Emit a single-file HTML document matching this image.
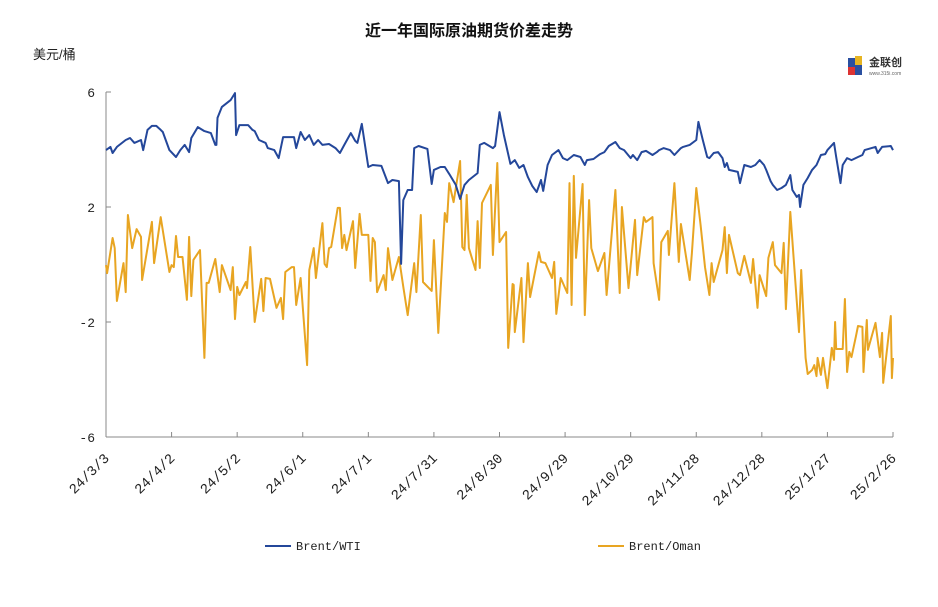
<!DOCTYPE html>
<html><head><meta charset="utf-8"><style>
body{margin:0;background:#fff;}
svg text{font-family:"Liberation Sans","Noto Sans CJK SC",sans-serif;}
svg text.mono{font-family:"Liberation Mono",monospace;}
</style></head><body>
<svg id="chart" width="938" height="602" viewBox="0 0 938 602" xmlns="http://www.w3.org/2000/svg">
<text x="469" y="36" text-anchor="middle" font-size="16" font-weight="bold" fill="#111">近一年国际原油期货价差走势</text>
<text x="33" y="59" font-size="13" fill="#222">美元/桶</text>
<g>
<rect x="848" y="58" width="7" height="9" fill="#2a4fa0"/><rect x="855" y="56" width="7" height="9" fill="#e6b422"/><rect x="848" y="67" width="7" height="8" fill="#d33"/><rect x="855" y="65" width="7" height="10" fill="#2a4fa0"/>
<text x="869" y="66" font-size="11" font-weight="bold" fill="#333">金联创</text>
<text x="869" y="75" font-size="5" fill="#666">www.315i.com</text>
</g>
<g id="axes"></g>
<g id="series"></g>
<g>
<line x1="265" y1="546" x2="291" y2="546" stroke="#24479a" stroke-width="2"/>
<text class="mono" x="296" y="550" font-size="12" fill="#222">Brent/WTI</text>
<line x1="598" y1="546" x2="624" y2="546" stroke="#e8a522" stroke-width="2"/>
<text class="mono" x="629" y="550" font-size="12" fill="#222">Brent/Oman</text>
</g>
</svg>
<script>
const tickLabels=["24/3/3","24/4/2","24/5/2","24/6/1","24/7/1","24/7/31","24/8/30","24/9/29","24/10/29","24/11/28","24/12/28","25/1/27","25/2/26"];
const yTicks=[6,2,-2,-6];
const wtiDays=[0,2,3,5,9,11,13,16,17,19,21,23,25,26,29,32,34,36,38,39,42,45,48,50,50.5,51,53,57,59,59.5,61,65,67,68,70,73,74,77,79,81,86,87,89,91,93,95,97,99,102,105,107,109,112,114,115,117,120,122,126,129,131,134,135,136,138,140,141,143,147,149,150,153,155,157,160,162,164,166,170,171,173,177,178,180,182,185,187,189,191,193,195,197,199,200,202,204,207,209,211,214,217,219,220,223,226,228,230,233,235,237,240,241,243,245,247,250,252,253,255,258,260,263,264,267,270,271,273,275,276,278,280,282,283,284,285,289,290,292,295,297,299,301,302,304,305,307,309,311,313,314,316,317,317.5,319,321,323,325,327,329,330,333,334,336,337,339,341,344,346,347,352,353,355,359,360];
const wtiVals=[3.98,4.09,3.88,4.09,4.33,4.40,4.23,4.33,3.98,4.68,4.82,4.82,4.68,4.61,3.98,3.74,3.98,4.16,3.91,4.40,4.78,4.64,4.57,4.16,4.16,5.10,5.48,5.72,5.96,4.50,4.85,4.85,4.68,4.64,4.33,4.23,4.05,3.98,3.70,4.43,4.43,4.05,4.61,4.33,4.50,4.16,4.33,4.16,4.19,4.05,3.88,4.16,4.57,4.30,4.23,4.89,3.39,3.46,3.43,2.83,2.94,2.90,0.02,2.24,2.59,2.59,4.05,4.12,4.02,2.80,3.29,3.39,3.39,3.15,2.77,2.28,2.77,2.94,3.18,4.16,4.23,4.05,4.12,5.30,4.50,3.50,3.63,3.36,3.46,3.04,2.73,2.52,2.94,2.56,3.46,3.81,3.98,3.70,3.63,3.81,3.74,3.46,3.63,3.67,3.84,3.91,4.12,4.26,4.05,3.98,3.70,3.81,3.63,3.91,3.95,3.81,3.91,3.98,4.05,3.98,3.81,4.05,4.09,4.16,4.33,4.96,4.33,3.74,3.70,3.88,3.91,3.70,3.39,3.53,3.29,3.22,2.83,3.46,3.39,3.46,3.63,3.46,3.29,2.90,2.77,2.59,2.66,2.77,3.11,2.59,2.35,2.42,2.00,2.77,3.01,3.29,3.46,3.81,3.84,3.98,4.23,3.74,2.83,3.46,3.70,3.63,3.74,3.81,3.98,4.09,3.88,4.09,4.12,3.98];
const omanDays=[0,0.5,3,4,5,8,9,10,12,14,16,16.5,21,22,25,29,30,31,32,33,35,37,38,39,40,43,45,46,47,50,52,53,57,58,59,60,61,64,64.5,66,68,71,72,73,75,78,80,81,82,85,86,87,89,92,93,95,96,99,100,101,102,103,106,107,108,109,110,113,114,116,117,120,121,122,123,124,127,128,129,131,134,136,138,141,142,144,145,149,150,152,155,156,157,159,160,162,163,164,165,166,169,170,171,172,176,177,179,180,183,184,186,186.5,187,190,191,193,194,198,199,201,204,205,206,208,211,212,213,214,215,218,219,221,222,225,228,229,233,235,236,239,242,243,246,247,250,250.5,253,254,257,257.5,260,262,263,267,268,270,272,274,276,277,278,282,283,284,285,289,290,292,295,296,298,299,302,303,305,306,309,310,311,313,317,318,320,321,323,324,325,325.5,327,328,330,332,333,333.5,334,337,338,339,340,341,343,344,346,346.5,348,348.5,352,354,355,355.5,359,359.5,360];
const omanVals=[-0.02,-0.30,0.92,0.57,-1.27,0.05,-0.96,1.72,0.57,1.23,0.96,-0.54,1.48,0.05,1.65,-0.26,-0.02,-0.09,0.99,0.26,0.26,-1.23,0.96,-1.10,0.16,0.50,-3.25,-0.64,-0.64,0.19,-0.96,-0.02,-0.89,-0.09,-1.90,-0.78,-1.06,-0.61,-0.82,0.61,-2.00,-0.50,-1.62,-0.47,-0.50,-1.51,-1.16,-1.90,-0.26,-0.09,-0.09,-1.41,-0.47,-3.50,-0.19,0.57,-0.47,1.44,0.02,-0.09,0.57,0.61,1.97,1.97,0.57,1.03,0.50,1.51,-0.12,1.76,1.03,1.03,-0.57,0.92,0.78,-0.96,-0.37,-0.89,0.57,-0.54,0.26,-0.78,-1.76,0.05,-0.96,1.72,-0.61,-0.92,0.85,-2.38,1.79,1.48,2.83,2.17,2.66,3.60,0.61,0.50,2.42,0.57,-0.19,1.51,-0.12,2.14,2.77,0.33,3.53,0.78,1.13,-2.90,-0.68,-0.71,-2.35,-0.47,-2.70,0.05,-1.13,0.43,0.09,0.05,-0.47,0.09,-1.72,-0.47,-0.99,2.83,-1.41,3.08,0.23,2.80,-1.76,2.24,0.57,-0.23,0.40,-1.06,2.59,-0.99,2.00,-0.82,1.55,-0.37,1.65,1.48,1.65,0.05,-1.23,0.78,1.17,0.33,2.83,0.09,1.41,-0.54,0.40,2.66,1.37,-0.09,-1.06,0.05,-0.61,0.50,1.30,-0.30,1.03,-0.30,-0.37,0.30,-0.64,0.19,-1.51,-0.37,-1.10,0.23,0.78,-0.02,-0.30,0.75,-1.55,1.83,-2.35,-0.19,-3.25,-3.81,-3.67,-3.50,-3.88,-3.25,-3.84,-3.25,-4.30,-2.90,-3.32,-2.00,-2.94,-2.94,-1.20,-3.74,-3.04,-3.22,-2.52,-2.14,-2.17,-3.74,-1.93,-2.97,-2.03,-3.22,-2.38,-4.12,-1.79,-3.95,-3.25];

const X0=106,X1=893,Y0=437,Y1=92;
const xs=d=>X0+(X1-X0)*d/360;
const ys=v=>Y0-(Y0-Y1)*(v+6)/12;
const NS="http://www.w3.org/2000/svg";
const mk=(t,a,p)=>{const e=document.createElementNS(NS,t);for(const k in a)e.setAttribute(k,a[k]);p.appendChild(e);return e;};
const axes=document.getElementById('axes');
const yl=mk('line',{x1:X0,y1:Y1,x2:X0,y2:Y0,stroke:'#888','stroke-width':1},axes);


const xl=mk('line',{x1:X0,y1:Y0,x2:X1,y2:Y0,stroke:'#888','stroke-width':1},axes);


yTicks.forEach(v=>{
  mk('line',{x1:X0,y1:ys(v),x2:X0+5,y2:ys(v),stroke:'#888'},axes);
  const t=mk('text',{class:'mono',x:X0-11,y:ys(v)+5,'text-anchor':'end','font-size':13,fill:'#222'},axes);
  t.textContent=v;
  
  
});
tickLabels.forEach((s,i)=>{
  const x=xs(i*30);
  mk('line',{x1:x,y1:Y0,x2:x,y2:Y0-5,stroke:'#888'},axes);
  const t=mk('text',{class:'mono',x:x+4,y:Y0+22,'text-anchor':'end','font-size':14,fill:'#222',transform:`rotate(-45 ${x+4} ${Y0+22})`},axes);
  t.textContent=s;
  
  
});
const ser=document.getElementById('series');
function draw(days,vals,col,name){
  const d=days.map((x,i)=>(i?'L':'M')+xs(x).toFixed(1)+' '+ys(vals[i]).toFixed(1)).join('');
  const p=mk('path',{d:d,fill:'none',stroke:col,'stroke-width':2,'stroke-linejoin':'round'},ser);
  
  
}
draw(omanDays,omanVals,'#e8a522','brent-oman-line');
draw(wtiDays,wtiVals,'#24479a','brent-wti-line');
</script>
</body></html>
